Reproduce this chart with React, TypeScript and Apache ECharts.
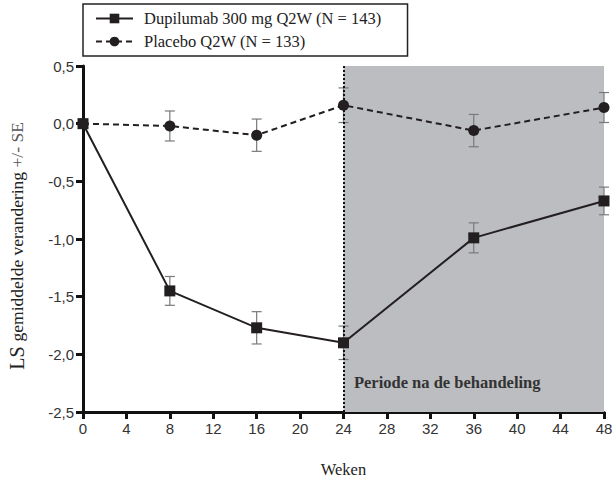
import React, { useEffect, useRef } from "react";
import * as echarts from "echarts";

const weeks = [0, 8, 16, 24, 36, 48];
const dupilumab = [0, -1.45, -1.77, -1.90, -0.99, -0.67];
const dupilumabSE = [0, 0.125, 0.14, 0.145, 0.13, 0.12];
const placebo = [0, -0.02, -0.10, 0.16, -0.06, 0.14];
const placeboSE = [0, 0.13, 0.14, 0.15, 0.14, 0.13];
const dupLabel = "Dupilumab 300 mg Q2W (N = 143)";
const plaLabel = "Placebo Q2W (N = 133)";
const shadeFrom = 24;
const shadeTo = 48;
const shadeText = "Periode na de behandeling";

const serif = "'Liberation Serif', 'DejaVu Serif', serif";
const sans = "'Liberation Sans', Arial, sans-serif";

function errData(vals: number[], se: number[]) {
  return weeks
    .map((w, i) => [w, vals[i] - se[i], vals[i] + se[i]])
    .filter((_, i) => se[i] > 0);
}

function errSeries(vals: number[], se: number[]) {
  return {
    type: "custom",
    z: 3,
    silent: true,
    clip: false,
    data: errData(vals, se),
    renderItem: (params: any, api: any) => {
      const x = api.value(0);
      const lo = api.coord([x, api.value(1)]);
      const hi = api.coord([x, api.value(2)]);
      const cap = 5;
      const style = { stroke: "#7a7a7a", lineWidth: 1.2 };
      return {
        type: "group",
        children: [
          { type: "line", shape: { x1: lo[0], y1: lo[1], x2: hi[0], y2: hi[1] }, style },
          { type: "line", shape: { x1: lo[0] - cap, y1: lo[1], x2: lo[0] + cap, y2: lo[1] }, style },
          { type: "line", shape: { x1: hi[0] - cap, y1: hi[1], x2: hi[0] + cap, y2: hi[1] }, style },
        ],
      };
    },
  };
}

export default function App() {
  const ref = useRef<HTMLDivElement>(null);
  useEffect(() => {
    if (!ref.current) return;
    const chart = echarts.init(ref.current, undefined, { renderer: "svg" });
    chart.setOption({
      animation: false,
      backgroundColor: "#ffffff",
      grid: { left: 83, right: 9, top: 66, bottom: 67, outerBoundsMode: "none", containLabel: false },
      legend: {
        orient: "vertical",
        left: 83,
        top: 4,
        padding: [6, 26, 6, 12],
        itemGap: 6,
        itemWidth: 37,
        itemHeight: 12,
        borderColor: "#222",
        borderWidth: 1.5,
        textStyle: { fontFamily: serif, fontSize: 16.5, color: "#222", padding: [0, 0, 0, 6] },
        data: [dupLabel, plaLabel],
      },
      xAxis: {
        type: "value",
        min: 0,
        max: 48,
        interval: 4,
        name: "Weken",
        nameLocation: "middle",
        nameGap: 49,
        nameTextStyle: { fontFamily: serif, fontSize: 16.5, color: "#222" },
        axisLine: { onZero: false, lineStyle: { color: "#111", width: 3 } },
        axisTick: { length: 7, lineStyle: { color: "#111", width: 3 } },
        axisLabel: { fontFamily: sans, fontSize: 15, color: "#333", margin: 9 },
        splitLine: { show: false },
      },
      yAxis: {
        type: "value",
        min: -2.5,
        max: 0.5,
        interval: 0.5,
        name: "{a|LS }{b|gemiddelde verandering }{c|+/- SE}",
        nameLocation: "middle",
        nameGap: 56,
        nameTextStyle: {
          fontFamily: serif,
          padding: [0, 14, 0, 0],
          rich: {
            a: { fontFamily: serif, fontSize: 20, color: "#222" },
            b: { fontFamily: serif, fontSize: 17.5, color: "#222" },
            c: { fontFamily: serif, fontSize: 17.5, color: "#555" },
          },
        },
        axisLine: { show: true, lineStyle: { color: "#111", width: 3 } },
        axisTick: { show: true, length: 7, lineStyle: { color: "#111", width: 3 } },
        axisLabel: {
          fontFamily: sans,
          fontSize: 15,
          color: "#333",
          margin: 9,
          formatter: (v: number) => v.toFixed(1).replace(".", ","),
        },
        splitLine: { show: false },
      },
      series: [
        {
          type: "line",
          name: "shade",
          z: 0,
          data: [],
          silent: true,
          markArea: {
            silent: true,
            itemStyle: { color: "#bcbdc0" },
            label: {
              show: true,
              position: ["4%", "89%"],
              formatter: shadeText,
              fontFamily: serif,
              fontWeight: "bold",
              fontSize: 16.5,
              color: "#333",
            },
            data: [[{ xAxis: shadeFrom }, { xAxis: shadeTo }]],
          },
          markLine: {
            silent: true,
            symbol: "none",
            label: { show: false },
            lineStyle: { color: "#111", type: "dotted", width: 2 },
            data: [{ xAxis: shadeFrom }],
          },
        },
        errSeries(dupilumab, dupilumabSE),
        errSeries(placebo, placeboSE),
        {
          type: "line",
          name: dupLabel,
          z: 5,
          clip: false,
          data: weeks.map((w, i) => [w, dupilumab[i]]),
          symbol: "rect",
          symbolSize: 11,
          itemStyle: { color: "#231f20" },
          lineStyle: { color: "#231f20", width: 2 },
        },
        {
          type: "line",
          name: plaLabel,
          z: 5,
          clip: false,
          data: weeks.map((w, i) => [w, placebo[i]]),
          symbol: "circle",
          symbolSize: 11,
          itemStyle: { color: "#231f20" },
          lineStyle: { color: "#231f20", width: 2, type: [6, 4] },
        },
      ],
    });
    return () => chart.dispose();
  }, []);
  return (
    <div
      ref={ref}
      style={{ position: "absolute", left: 0, top: 0, width: 613, height: 479 }}
    />
  );
}
